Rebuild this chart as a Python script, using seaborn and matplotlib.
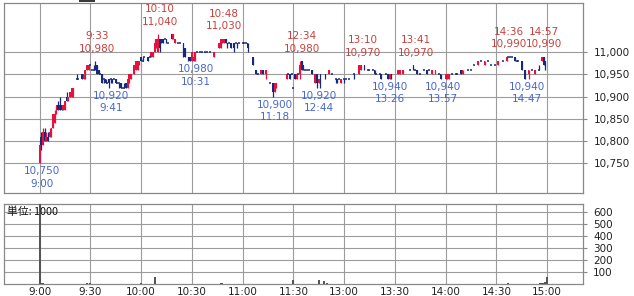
import matplotlib
matplotlib.use('Agg')
import matplotlib.pyplot as plt
import seaborn as sns
import numpy as np
import pandas as pd
from matplotlib.patches import Rectangle

# ---------------- data ----------------
t = ["9:00","9:01","9:02","9:03","9:04","9:05","9:06","9:07","9:08","9:09",
     "9:10","9:11","9:12","9:13","9:14","9:15","9:16","9:17","9:18","9:19",
     "9:20","9:22","9:23","9:25","9:26","9:27","9:28","9:29","9:30","9:31",
     "9:32","9:33","9:34","9:35","9:36","9:37","9:38","9:39","9:40","9:41",
     "9:42","9:43","9:44","9:45","9:46","9:47","9:48","9:49","9:50","9:51",
     "9:52","9:53","9:54","9:56","9:57","9:58","9:59","10:00","10:01","10:02",
     "10:04","10:05","10:06","10:07","10:08","10:09","10:10","10:11","10:12","10:13",
     "10:14","10:15","10:16","10:18","10:19","10:20","10:22","10:23","10:25","10:26",
     "10:28","10:29","10:30","10:31","10:32","10:33","10:35","10:36","10:38","10:39",
     "10:41","10:43","10:46","10:47","10:48","10:49","10:50","10:51","10:52","10:53",
     "10:55","10:56","10:57","10:58","11:00","11:01","11:02","11:03","11:06","11:08",
     "11:09","11:11","11:12","11:14","11:16","11:18","11:19","11:20","11:26","11:27",
     "11:28","11:29","12:30","12:31","12:32","12:33","12:34","12:35","12:36","12:37",
     "12:38","12:39","12:41","12:43","12:44","12:45","12:46","12:49","12:51","12:53",
     "12:55","12:56","12:57","12:58","13:00","13:01","13:03","13:06","13:09","13:10",
     "13:12","13:14","13:15","13:17","13:18","13:19","13:21","13:22","13:25","13:26",
     "13:27","13:28","13:32","13:33","13:35","13:39","13:41","13:42","13:43","13:45",
     "13:47","13:49","13:50","13:52","13:54","13:56","13:57","14:00","14:01","14:02",
     "14:04","14:06","14:07","14:09","14:10","14:13","14:15","14:17","14:19","14:21",
     "14:23","14:25","14:27","14:29","14:31","14:34","14:36","14:37","14:38","14:39",
     "14:41","14:42","14:43","14:45","14:47","14:49","14:51","14:53","14:55","14:57",
     "14:58","14:59"]
o = [10750,10810,10790,10820,10800,10810,10810,10820,10830,10840,
     10860,10880,10880,10880,10870,10870,10900,10890,10900,10900,
     10900,10940,10940,10950,10940,10950,10960,10960,10970,10960,
     10960,10970,10970,10960,10950,10950,10940,10940,10930,10940,
     10940,10940,10940,10940,10930,10930,10930,10920,10920,10930,
     10920,10930,10940,10950,10960,10960,10970,10990,10980,10990,
     10990,10990,10990,10990,11000,11010,11000,11030,11030,11030,
     11030,11030,11020,11040,11030,11020,11020,11020,11020,11010,
     10990,10990,10980,10980,10980,11000,11000,11000,11000,11000,
     11000,10990,11010,11010,11020,11020,11030,11020,11020,11020,
     11020,11020,11020,11020,11020,11020,11020,11020,10990,10960,
     10950,10950,10960,10950,10930,10930,10910,10920,10940,10950,
     10950,10950,10920,10950,10940,10950,10950,10980,10970,10960,
     10960,10960,10960,10930,10950,10930,10950,10950,10950,10950,
     10940,10940,10940,10930,10940,10940,10940,10950,10950,10960,
     10970,10960,10960,10960,10960,10950,10950,10950,10950,10950,
     10940,10950,10950,10950,10950,10960,10970,10960,10960,10950,
     10960,10960,10960,10950,10950,10950,10950,10940,10940,10940,
     10950,10950,10950,10960,10950,10960,10960,10970,10970,10980,
     10970,10980,10970,10970,10970,10980,10980,10990,10990,10990,
     10990,10980,10980,10980,10960,10950,10960,10950,10960,10980,
     10990,10980]
h = [10800,10820,10830,10830,10820,10820,10830,10830,10860,10870,
     10880,10890,10900,10880,10880,10890,10910,10900,10910,10920,
     10920,10950,10940,10950,10950,10960,10970,10970,10970,10960,
     10970,10980,10970,10960,10950,10950,10940,10940,10930,10940,
     10940,10940,10940,10940,10930,10930,10930,10920,10930,10930,
     10940,10950,10950,10970,10980,10980,10980,10990,10990,10990,
     10990,10990,11000,11000,11030,11030,11040,11030,11030,11030,
     11030,11030,11020,11040,11040,11030,11020,11020,11020,11010,
     10990,10990,11000,11000,11000,11000,11000,11000,11000,11000,
     11000,11000,11020,11030,11030,11030,11030,11020,11020,11020,
     11020,11020,11020,11020,11020,11020,11020,11020,10990,10960,
     10950,10960,10960,10960,10930,10930,10930,10930,10950,10950,
     10950,10950,10920,10950,10950,10950,10980,10980,10970,10960,
     10960,10960,10960,10950,10950,10940,10950,10950,10960,10950,
     10940,10940,10940,10940,10940,10940,10940,10950,10970,10970,
     10970,10960,10960,10960,10960,10950,10950,10950,10950,10950,
     10950,10950,10960,10960,10960,10960,10970,10960,10960,10950,
     10960,10960,10960,10960,10960,10950,10950,10950,10950,10950,
     10950,10950,10950,10960,10960,10960,10960,10970,10980,10980,
     10980,10980,10970,10970,10980,10980,10990,10990,10990,10990,
     10990,10980,10980,10980,10960,10960,10960,10960,10970,10990,
     10990,10980]
l = [10750,10780,10790,10800,10800,10800,10810,10810,10830,10840,
     10860,10870,10870,10870,10870,10870,10890,10890,10900,10900,
     10900,10940,10940,10940,10940,10940,10960,10960,10970,10960,
     10960,10960,10950,10950,10950,10930,10930,10930,10930,10920,
     10930,10930,10940,10930,10930,10920,10920,10920,10920,10920,
     10920,10930,10940,10950,10960,10960,10970,10980,10980,10990,
     10980,10990,10990,10990,11000,11010,11000,11000,11020,11020,
     11030,11020,11020,11030,11030,11020,11020,11020,10990,10990,
     10980,10980,10980,10980,10980,11000,11000,11000,11000,11000,
     11000,10990,11010,11010,11020,11020,11020,11010,11020,11010,
     11000,11020,11010,11020,11020,11020,11020,11000,10970,10950,
     10950,10950,10950,10940,10930,10900,10910,10920,10940,10950,
     10940,10950,10920,10940,10940,10950,10940,10960,10960,10960,
     10960,10960,10950,10930,10920,10930,10920,10940,10950,10950,
     10930,10930,10940,10930,10930,10940,10940,10940,10950,10960,
     10960,10960,10960,10960,10950,10950,10950,10940,10950,10940,
     10940,10940,10950,10950,10950,10960,10960,10960,10950,10950,
     10960,10950,10960,10950,10950,10950,10940,10940,10940,10940,
     10950,10950,10950,10950,10950,10960,10960,10970,10970,10980,
     10970,10980,10970,10970,10970,10980,10980,10990,10990,10990,
     10980,10980,10980,10960,10940,10940,10960,10950,10960,10980,
     10970,10960]
c = [10790,10790,10820,10800,10810,10800,10820,10830,10860,10860,
     10880,10870,10870,10870,10880,10890,10890,10900,10910,10920,
     10920,10940,10940,10940,10950,10960,10970,10970,10970,10960,
     10960,10960,10950,10950,10950,10930,10940,10930,10930,10930,
     10940,10930,10940,10930,10930,10930,10920,10920,10920,10920,
     10940,10950,10950,10970,10980,10980,10980,10980,10980,10990,
     10980,10990,11000,11000,11020,11030,11030,11010,11020,11020,
     11030,11020,11020,11030,11040,11030,11020,11020,11000,10990,
     10980,10980,11000,10990,11000,11000,11000,11000,11000,11000,
     11000,11000,11020,11030,11030,11030,11020,11010,11020,11010,
     11010,11020,11010,11020,11020,11020,11020,11010,10970,10950,
     10950,10960,10950,10960,10930,10910,10930,10930,10950,10950,
     10940,10950,10920,10940,10950,10950,10970,10960,10960,10960,
     10960,10960,10950,10950,10930,10940,10930,10940,10960,10950,
     10940,10930,10940,10940,10940,10940,10940,10950,10970,10970,
     10960,10960,10960,10960,10950,10950,10950,10940,10950,10940,
     10950,10940,10960,10960,10960,10960,10960,10960,10950,10950,
     10960,10950,10960,10960,10960,10950,10940,10950,10950,10950,
     10950,10950,10950,10950,10960,10960,10960,10970,10980,10980,
     10980,10980,10970,10970,10980,10980,10990,10990,10990,10990,
     10980,10980,10980,10960,10940,10960,10960,10960,10960,10990,
     10970,10960]

vol_times = ["9:00","9:01","9:02","9:28","9:30","10:00","10:08","10:47","10:48",
             "12:30","12:45","12:48","12:50","14:37","14:56","14:57","14:58","14:59","15:00"]
vol_values = [690, 8, 5, 6, 10, 6, 62, 5, 8, 35, 30, 22, 12, 10, 10, 12, 12, 14, 60]

hi_times = ["9:33","10:10","10:48","12:34","13:10","13:41","14:36","14:57"]
hi_prices = [10980, 11040, 11030, 10980, 10970, 10970, 10990, 10990]
lo_times = ["9:00","9:41","10:31","11:18","12:44","13:26","13:57","14:47"]
lo_prices = [10750, 10920, 10980, 10900, 10920, 10940, 10940, 10940]

xtick_labels = ["9:00","9:30","10:00","10:30","11:00","11:30","13:00","13:30","14:00","14:30","15:00"]
price_ticks = [10750, 10800, 10850, 10900, 10950, 11000]
vol_ticks = [100, 200, 300, 400, 500, 600]
unit_text = "単位: 1000"

# ---------------- helpers ----------------
def to_idx(s):
    hh, mm = s.split(":")
    m = int(hh) * 60 + int(mm)
    if m <= 11 * 60 + 30:
        return m - 540
    return 150 + (m - 750)

RED = "#e5123d"
NAVY = "#16297a"
TXT_RED = "#c8413e"
TXT_BLUE = "#4767cc"
GRID = "#9c9c9c"
SPINE = "#888888"

sns.set_theme(style="white")
plt.rcParams["font.family"] = ["DejaVu Sans", "Noto Sans CJK JP"]
plt.rcParams["font.size"] = 7.5

W, H = 634, 296
fig = plt.figure(figsize=(W / 100, H / 100), dpi=100)
fig.patch.set_facecolor("white")

def frac_box(x0, y0, x1, y1):
    return [x0 / W, 1 - y1 / H, (x1 - x0) / W, (y1 - y0) / H]

ax = fig.add_axes(frac_box(3.5, 3.3, 583, 193))
ax2 = fig.add_axes(frac_box(3.5, 204, 583, 284))

XL = (-21.3, 321.2)
xt = [to_idx(s) for s in xtick_labels]

# ---------------- candles ----------------
idx = np.array([to_idx(s) for s in t], dtype=float)
O = np.array(o, float); Hh = np.array(h, float); L = np.array(l, float); C = np.array(c, float)
flat = C == O
upm = C > O
col = np.where(upm, RED, NAVY)

ax.vlines(idx, L, Hh, colors=col, lw=0.9, zorder=3)
nf = ~flat
ax.bar(idx[nf], np.abs(C - O)[nf], bottom=np.minimum(C, O)[nf], width=1.0,
       color=col[nf], linewidth=0, zorder=4)
ax.hlines(C[flat], idx[flat] - 0.6, idx[flat] + 0.6, colors=NAVY, lw=1.1, zorder=4)

# annotations
for s, p in zip(hi_times, hi_prices):
    x = to_idx(s)
    ax.annotate(f"{p:,}", xy=(x, p), xytext=(2, 12.5), textcoords="offset pixels",
                ha="center", va="center", color=TXT_RED, fontsize=7.5, zorder=6)
    ax.annotate(s, xy=(x, p), xytext=(2, 25), textcoords="offset pixels",
                ha="center", va="center", color=TXT_RED, fontsize=7.5, zorder=6)
for s, p in zip(lo_times, lo_prices):
    x = to_idx(s)
    ax.annotate(f"{p:,}", xy=(x, p), xytext=(2, -8), textcoords="offset pixels",
                ha="center", va="center", color=TXT_BLUE, fontsize=7.5, zorder=6)
    ax.annotate(s, xy=(x, p), xytext=(2, -20.5), textcoords="offset pixels",
                ha="center", va="center", color=TXT_BLUE, fontsize=7.5, zorder=6)

ax.set_xlim(*XL)
ax.set_ylim(10683, 11110)
ax.set_xticks(xt)
ax.set_xticklabels([])
ax.set_yticks(price_ticks)
ax.set_yticklabels([f"{v:,}" for v in price_ticks])
ax.yaxis.tick_right()
ax.tick_params(axis="x", length=0, labelbottom=False)
ax.tick_params(axis="y", length=3.2, width=0.8, color=SPINE, pad=4.3,
               labelsize=7.5, labelcolor="#222222", right=True, left=False)
ax.grid(True, color=GRID, lw=0.8)
ax.set_axisbelow(True)

# ---------------- volume ----------------
vdf = pd.DataFrame({"idx": [to_idx(s) for s in vol_times], "vol": vol_values})
sns.barplot(data=vdf, x="idx", y="vol", native_scale=True, color="#555555",
            saturation=1, errorbar=None, width=1.2, linewidth=0, ax=ax2, zorder=3)
ax2.set_xlabel(""); ax2.set_ylabel("")
ax2.set_xlim(*XL)
ax2.set_ylim(0, 667)
ax2.set_xticks(xt)
ax2.set_xticklabels(xtick_labels)
ax2.set_yticks(vol_ticks)
ax2.set_yticklabels([str(v) for v in vol_ticks])
ax2.yaxis.tick_right()
ax2.tick_params(axis="x", length=0, pad=2, labelsize=7.5, labelcolor="#222222")
ax2.tick_params(axis="y", length=3.2, width=0.8, color=SPINE, pad=4, labelsize=7.5,
                labelcolor="#222222", right=True, left=False)
ax2.grid(True, color=GRID, lw=0.8)
ax2.set_axisbelow(True)
ax2.text(0.006, 0.9, unit_text, transform=ax2.transAxes, ha="left", va="center",
         fontsize=7.8, color="#111111", zorder=6,
         family=["Noto Sans CJK JP", "DejaVu Sans"])

for a in (ax, ax2):
    for sp in a.spines.values():
        sp.set_visible(True)
        sp.set_color(SPINE)
        sp.set_linewidth(0.9)
    a.set_facecolor("white")

# small cropped UI element at the very top edge
fig.patches.append(Rectangle((79 / W, 1 - 2 / H), 16 / W, 2 / H, transform=fig.transFigure,
                             facecolor="#3a3a3a", edgecolor="none"))

fig.savefig("out.png", dpi=100, facecolor="white")
